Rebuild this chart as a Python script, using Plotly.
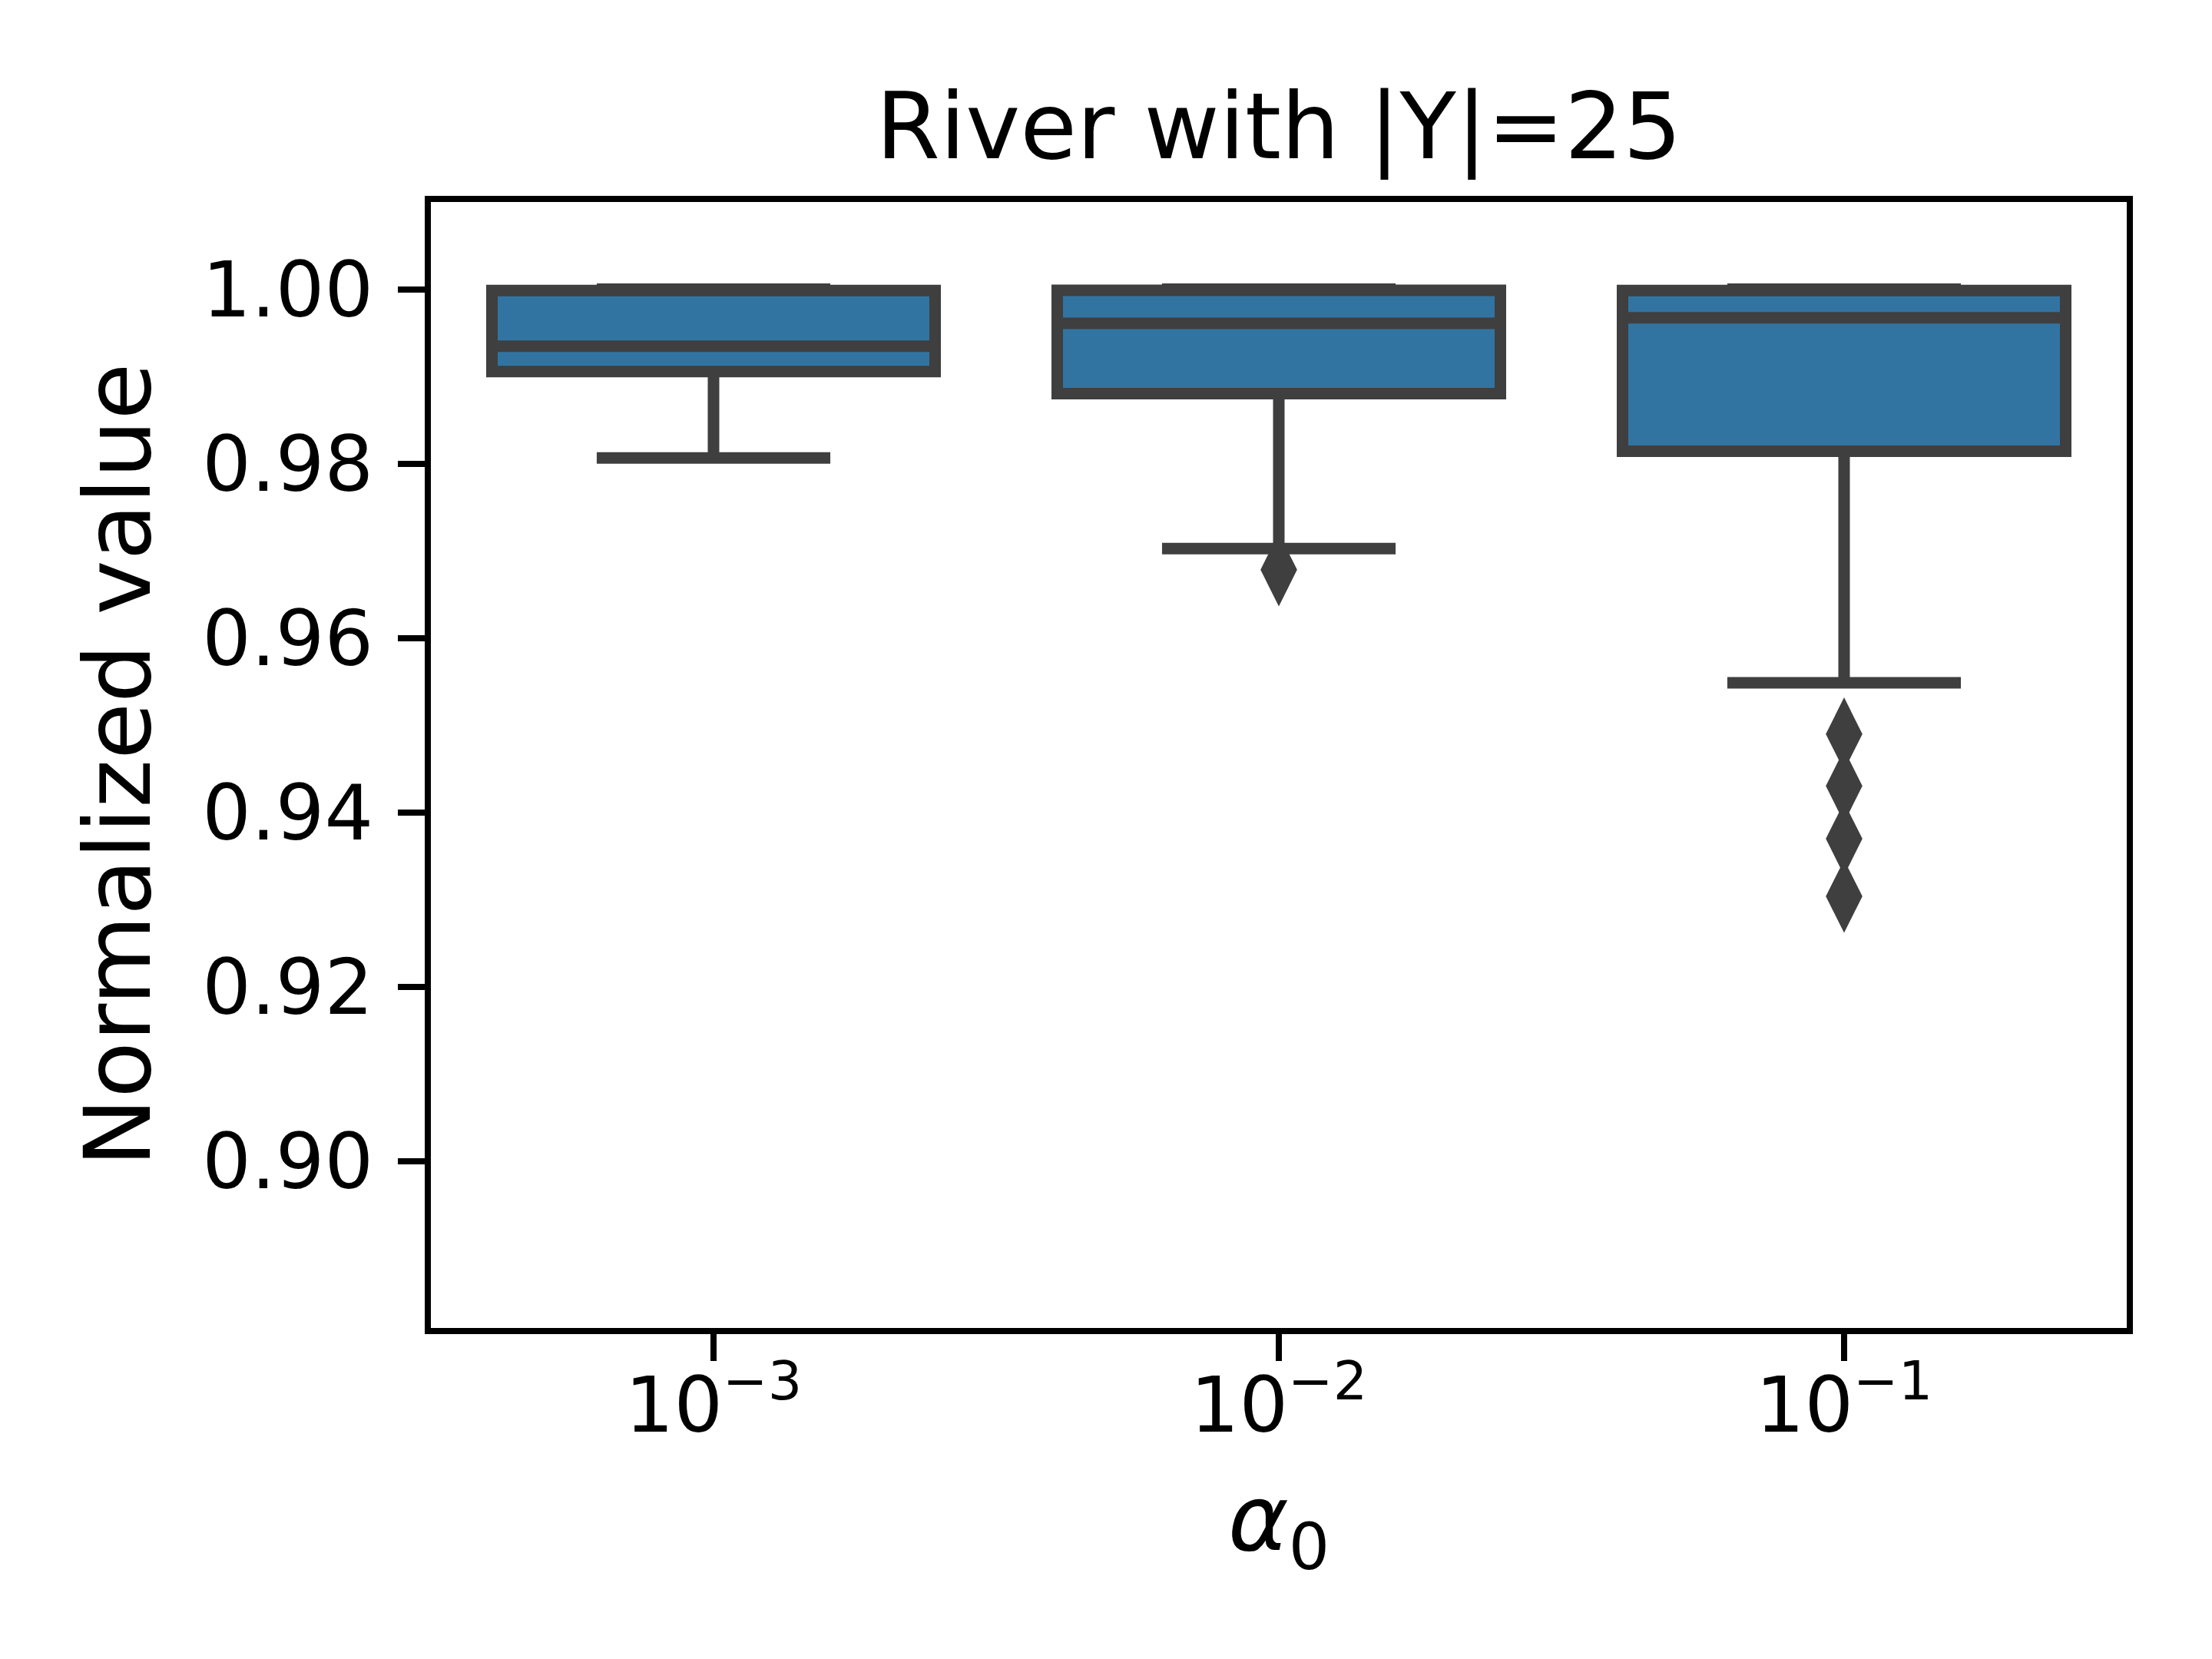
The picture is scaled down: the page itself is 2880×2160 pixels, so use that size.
import plotly.graph_objects as go

# alpha_0 categories and box statistics
alpha_labels = ["10<sup>−3</sup>", "10<sup>−2</sup>", "10<sup>−1</sup>"]
q1 = [0.99057, 0.98802, 0.98143]
median = [0.99346, 0.99609, 0.99672]
q3 = [0.99985, 0.99987, 0.99985]
lower_whisker = [0.98066, 0.97026, 0.95487]
upper_whisker = [1.0, 1.0, 1.0]

# outliers (fliers) per category
flier_cat = ["10<sup>−2</sup>", "10<sup>−1</sup>", "10<sup>−1</sup>", "10<sup>−1</sup>", "10<sup>−1</sup>"]
flier_val = [0.96783, 0.94900, 0.94304, 0.93699, 0.93039]

y_ticks = [0.90, 0.92, 0.94, 0.96, 0.98, 1.00]

FONT = "DejaVu Sans"
LINE = "#3f3f3f"
FILL = "#3274a1"

fig = go.Figure()
fig.add_trace(go.Box(
    x=alpha_labels,
    q1=q1, median=median, q3=q3,
    lowerfence=lower_whisker, upperfence=upper_whisker,
    boxpoints=False,
    width=0.784,
    whiskerwidth=0.527,
    fillcolor=FILL,
    line=dict(color=LINE, width=15),
    showlegend=False,
    hoverinfo="skip",
))
fig.add_trace(go.Scatter(
    x=flier_cat, y=flier_val,
    mode="markers",
    marker=dict(symbol="diamond-tall", size=68, color=LINE, line=dict(width=0)),
    showlegend=False,
    hoverinfo="skip",
))

fig.update_layout(
    width=2880, height=2160,
    margin=dict(l=553, r=119, t=255, b=439, pad=0),
    paper_bgcolor="white", plot_bgcolor="white",
    font=dict(family=FONT, size=100, color="black"),
    title=dict(
        text="River with |Y|=25",
        font=dict(family=FONT, size=120, color="black"),
        x=0.5, xref="paper", xanchor="center",
        y=1 - 156 / 2160, yref="container", yanchor="middle",
    ),
)
fig.update_xaxes(
    type="category",
    categoryorder="array", categoryarray=alpha_labels,
    range=[-0.5, 2.5],
    showgrid=False, zeroline=False,
    showline=True, mirror=True, linecolor="black", linewidth=8,
    ticks="outside", ticklen=35, tickwidth=8, tickcolor="black",
    ticklabelstandoff=-28,
    tickfont=dict(family=FONT, size=100, color="black"),
    title=dict(text="<i>α</i><sub>0</sub>", font=dict(family=FONT, size=120, color="black"), standoff=50),
)
fig.update_yaxes(
    range=[0.8809, 1.0100],
    tickvals=y_ticks, tickformat=".2f",
    showgrid=False, zeroline=False,
    showline=True, mirror=True, linecolor="black", linewidth=8,
    ticks="outside", ticklen=35, tickwidth=8, tickcolor="black",
    ticklabelstandoff=12,
    tickfont=dict(family=FONT, size=100, color="black"),
    title=dict(text="Normalized value", font=dict(family=FONT, size=120, color="black"), standoff=30),
)

fig.write_html("out.html")
